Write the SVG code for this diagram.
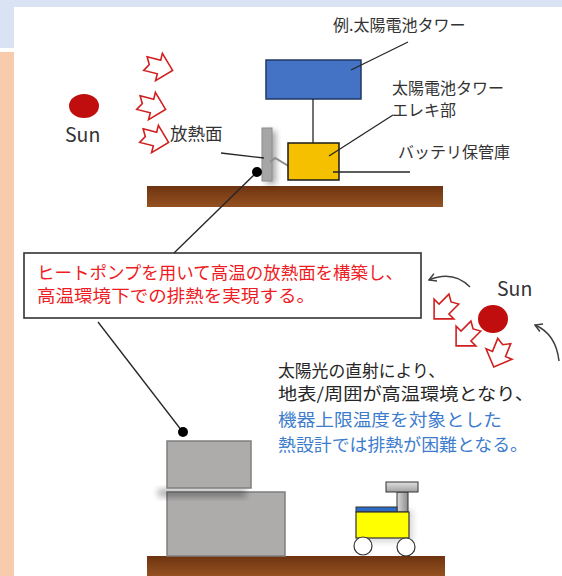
<svg xmlns="http://www.w3.org/2000/svg" width="562" height="576" viewBox="0 0 562 576">
  <defs>
    <style>
      .jp { font-family: "Noto Sans CJK JP", "Noto Sans", sans-serif; }
      .lbl { font-size: 16px; fill: #333333; }
      .sunlbl { font-size: 19.5px; fill: #333333; }
      .body { font-size: 17px; fill: #262626; }
      .blue { fill: #3d7ccc; }
      .red { font-size: 17.5px; fill: #ee1c25; }
      .lead { stroke: #262626; stroke-width: 1.3; fill: none; }
      .heat { fill: #ffffff; stroke: #d01f1f; stroke-width: 1.6; stroke-linejoin: miter; }
      .sun { fill: #c00d0d; }
      .curve { stroke: #404040; stroke-width: 1.5; fill: none; }
      .ground { fill: url(#soil); }
      .box { fill: #aeabab; stroke: #7f7f7f; stroke-width: 1.5; }
    </style>
    <linearGradient id="soil" x1="0" y1="0" x2="0" y2="1">
      <stop offset="0" stop-color="#6e3410"/>
      <stop offset="1" stop-color="#955121"/>
    </linearGradient>
    <linearGradient id="metal" x1="0" y1="0" x2="1" y2="0">
      <stop offset="0" stop-color="#d9d9d9"/>
      <stop offset="1" stop-color="#8c8c8c"/>
    </linearGradient>
    <linearGradient id="metalV" x1="0" y1="0" x2="0" y2="1">
      <stop offset="0" stop-color="#e0e0e0"/>
      <stop offset="1" stop-color="#a0a0a0"/>
    </linearGradient>
    <filter id="soft" x="-50%" y="-50%" width="200%" height="200%">
      <feGaussianBlur stdDeviation="3"/>
    </filter>
    <!-- hollow notched block arrow, pointing right, centred on 0,0 -->
    <polygon id="ray" class="heat" points="-14,-7 0,-7 0,-14 14,0 0,14 0,7 -14,7 -10,0"/>
    <marker id="openHead" viewBox="0 0 10 10" refX="9" refY="5" markerWidth="10" markerHeight="10" orient="auto" markerUnits="userSpaceOnUse">
      <path d="M2,1 L9,5 L2,9" fill="none" stroke="#404040" stroke-width="1.5"/>
    </marker>
  </defs>

  <!-- page frame -->
  <rect x="0" y="0" width="562" height="576" fill="#ffffff"/>
  <rect x="0" y="0" width="562" height="7" fill="#dae3f3"/>
  <rect x="0" y="0" width="14" height="48" fill="#dae3f3"/>
  <rect x="0" y="52" width="14" height="524" fill="#f8cbad"/>

  <!-- upper scene -->
  <g id="sun-left">
    <ellipse class="sun" cx="84" cy="106" rx="15" ry="12"/>
    <text class="jp sunlbl" x="65" y="142">Sun</text>
  </g>

  <g id="rays-left">
    <use href="#ray" transform="translate(159,67) rotate(14)"/>
    <use href="#ray" transform="translate(152,106) rotate(14)"/>
    <use href="#ray" transform="translate(155,139) rotate(14)"/>
  </g>

  <g id="ground-upper">
    <rect class="ground" x="147" y="186" width="296" height="21"/>
  </g>

  <g id="radiator">
    <rect x="266" y="131" width="10" height="53" fill="#000" opacity="0.35" filter="url(#soft)"/>
    <rect x="262" y="128" width="10" height="53" fill="#a6a6a6" stroke="#8c8c8c" stroke-width="1"/>
    <polyline points="270,162 275,158 302,174" fill="none" stroke="#8c8c8c" stroke-width="2"/>
  </g>

  <g id="tower">
    <rect x="266" y="60" width="95" height="39" fill="#4472c4" stroke="#1f3864" stroke-width="1.5"/>
  </g>

  <g id="battery">
    <rect x="288" y="143" width="51" height="37" fill="#f4c000" stroke="#1a1a1a" stroke-width="1.5"/>
  </g>

  <g id="labels-upper" class="jp lbl">
    <text x="333" y="31">例.太陽電池タワー</text>
    <text x="392" y="94">太陽電池タワー</text>
    <text x="392" y="116">エレキ部</text>
    <text x="398" y="158">バッテリ保管庫</text>
    <text x="170" y="140" style="font-size:17.5px">放熱面</text>
  </g>

  <!-- callout -->
  <g id="callout">
    <rect x="24" y="253" width="397" height="65" fill="#ffffff" stroke="#333333" stroke-width="1.6"/>
    <text class="jp red" x="37" y="279" textLength="366" lengthAdjust="spacingAndGlyphs">ヒートポンプを用いて高温の放熱面を構築し、</text>
    <text class="jp red" x="37" y="302" textLength="278" lengthAdjust="spacingAndGlyphs">高温環境下での排熱を実現する。</text>
  </g>

  <g id="sun-right">
    <ellipse class="sun" cx="493" cy="319" rx="15" ry="14"/>
    <text class="jp sunlbl" x="497" y="296">Sun</text>
  </g>

  <g id="rays-right">
    <use href="#ray" transform="translate(444,309) rotate(135)"/>
    <use href="#ray" transform="translate(466,336) rotate(135)"/>
    <use href="#ray" transform="translate(499,354) rotate(112)"/>
  </g>

  <g id="note">
    <text class="jp body" x="278" y="377" textLength="167" lengthAdjust="spacingAndGlyphs">太陽光の直射により、</text>
    <text class="jp body" x="278" y="400" textLength="256" lengthAdjust="spacingAndGlyphs">地表/周囲が高温環境となり、</text>
    <text class="jp body blue" x="278" y="426" textLength="224" lengthAdjust="spacingAndGlyphs">機器上限温度を対象とした</text>
    <text class="jp body blue" x="278" y="451" textLength="250" lengthAdjust="spacingAndGlyphs">熱設計では排熱が困難となる。</text>
  </g>

  <!-- lower scene -->
  <g id="ground-lower">
    <rect class="ground" x="147" y="556" width="298" height="20"/>
  </g>

  <g id="equipment">
    <rect class="box" x="167" y="492" width="118" height="64"/>
    <rect x="158" y="489" width="88" height="8" fill="#000" opacity="0.3" filter="url(#soft)"/>
    <rect class="box" x="167" y="441" width="84" height="47"/>
  </g>

  <g id="rover">
    <rect x="359" y="510" width="54" height="32" fill="#000" opacity="0.15" filter="url(#soft)"/>
    <rect x="397" y="492" width="11" height="20" fill="url(#metal)" stroke="#333" stroke-width="1"/>
    <rect x="386" y="482" width="32" height="10" fill="url(#metalV)" stroke="#333" stroke-width="1"/>
    <rect x="356" y="507" width="41" height="5" fill="#2e6bc4" stroke="#333" stroke-width="1"/>
    <rect x="356" y="512" width="53" height="26" fill="#ffff00" stroke="#333" stroke-width="1.2"/>
    <circle cx="363" cy="546" r="9" fill="#ffffff" stroke="#333" stroke-width="1.2"/>
    <circle cx="406" cy="547" r="9" fill="#ffffff" stroke="#333" stroke-width="1.2"/>
  </g>

  <!-- leaders and arrows -->
  <g id="connectors">
    <line class="lead" x1="313" y1="99" x2="313" y2="143" stroke-width="1.5"/>
    <line class="lead" x1="408" y1="42" x2="351" y2="70"/>
    <line class="lead" x1="393" y1="115" x2="329" y2="156"/>
    <line class="lead" x1="333" y1="172" x2="410" y2="172"/>
    <line class="lead" x1="221" y1="153" x2="264" y2="158" stroke-width="1.6"/>
    <line class="lead" x1="257" y1="172" x2="174" y2="253"/>
    <circle cx="257" cy="172" r="5" fill="#000"/>
    <line class="lead" x1="98" y1="322" x2="182" y2="431"/>
    <circle cx="183" cy="432" r="5" fill="#000"/>
    <path class="curve" d="M470,287 Q453,270 429,280" marker-end="url(#openHead)"/>
    <path class="curve" d="M559,361 Q556,334 535,325" marker-end="url(#openHead)"/>
  </g>
</svg>
